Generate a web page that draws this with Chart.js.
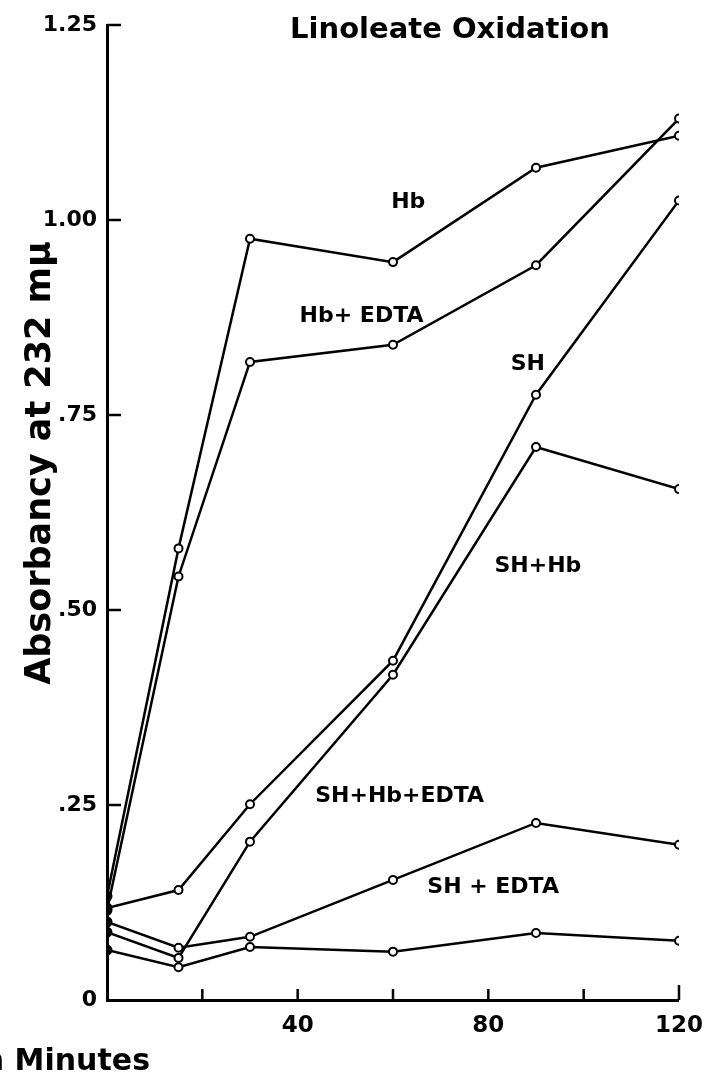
<!DOCTYPE html>
<html>
<head>
<meta charset="utf-8">
<title>Linoleate Oxidation</title>
<script src="https://cdn.jsdelivr.net/npm/chart.js@4.4.1/dist/chart.umd.min.js"></script>
<style>
  body { margin: 0; background: #fff; }
  #wrap { width: 715px; height: 1075px; position: relative; }
</style>
</head>
<body>
<div id="wrap"><canvas id="oxChart"></canvas></div>
<script>
// sampling times (minutes)
const minutes = [0, 15, 30, 60, 90, 120];

// absorbancy at 232 mμ for each incubation mixture
const hb = [0.133, 0.579, 0.976, 0.946, 1.067, 1.108];
const hbEdta = [0.115, 0.543, 0.818, 0.840, 0.942, 1.130];
const sh = [0.118, 0.141, 0.251, 0.435, 0.776, 1.025];
const shHb = [0.087, 0.054, 0.203, 0.417, 0.709, 0.655];
const shHbEdta = [0.100, 0.067, 0.081, 0.154, 0.227, 0.199];
const shEdta = [0.064, 0.042, 0.068, 0.062, 0.086, 0.076];

const seriesNames = ['Hb', 'Hb+ EDTA', 'SH', 'SH+Hb', 'SH+Hb+EDTA', 'SH + EDTA'];
const seriesValues = [hb, hbEdta, sh, shHb, shHbEdta, shEdta];

// where each curve name sits, in chart units (minutes, absorbancy)
const nameMinutes = [63.2, 53.4, 88.3, 90.4, 61.4, 81.0];
const nameAbsorb = [1.015, 0.869, 0.808, 0.549, 0.254, 0.137];

const FONT = "'DejaVu Sans', sans-serif";

function pointsOf(values) {
    return minutes.map((m, i) => ({ x: m, y: values[i] }));
}

const datasets = seriesValues.map((vals, k) => ({
    label: seriesNames[k],
    data: pointsOf(vals),
    borderColor: '#000',
    borderWidth: 2.5,
    tension: 0,
    pointRadius: ctx => ctx.dataIndex === 0 ? 4.5 : 4,
    pointBorderWidth: 2,
    pointBorderColor: '#000',
    pointBackgroundColor: ctx => ctx.dataIndex === 0 ? '#000' : '#fff'
}));

// short inward tick marks along both axes
const inwardTicks = {
    id: 'inwardTicks',
    afterDatasetsDraw(chart) {
        const { ctx, scales: { x, y } } = chart;
        ctx.save();
        ctx.strokeStyle = '#000';
        ctx.lineWidth = 2.5;
        y.ticks.forEach(t => {
            if (t.value === 0) return;
            const py = y.getPixelForValue(t.value);
            ctx.beginPath();
            ctx.moveTo(y.right, py);
            ctx.lineTo(y.right + 14, py);
            ctx.stroke();
        });
        x.ticks.forEach(t => {
            if (t.value === 0) return;
            const px = x.getPixelForValue(t.value);
            ctx.beginPath();
            ctx.moveTo(px, x.top);
            ctx.lineTo(px, x.top - (t.value === 120 ? 15 : 11));
            ctx.stroke();
        });
        ctx.restore();
    }
};

// title, axis captions and curve names
const captions = {
    id: 'captions',
    afterDraw(chart) {
        const { ctx, scales: { x, y } } = chart;
        ctx.save();
        ctx.fillStyle = '#000';

        ctx.font = 'bold 29px ' + FONT;
        ctx.textAlign = 'center';
        ctx.textBaseline = 'alphabetic';
        ctx.fillText('Linoleate Oxidation', 450, 38);

        ctx.save();
        ctx.translate(50, 463);
        ctx.rotate(-Math.PI / 2);
        ctx.font = 'bold 35px ' + FONT;
        ctx.fillText('Absorbancy at 232 mμ', 0, 0);
        ctx.restore();

        ctx.font = 'bold 30px ' + FONT;
        ctx.textAlign = 'right';
        ctx.fillText('Time in Minutes', 150, 1070);

        ctx.font = 'bold 22px ' + FONT;
        ctx.textAlign = 'center';
        seriesNames.forEach((name, k) => {
            ctx.fillText(name, x.getPixelForValue(nameMinutes[k]), y.getPixelForValue(nameAbsorb[k]));
        });
        ctx.restore();
    }
};

new Chart(document.getElementById('oxChart'), {
    type: 'line',
    data: { datasets: datasets },
    options: {
        responsive: true,
        maintainAspectRatio: false,
        animation: false,
        layout: { padding: { top: 25, right: 33, left: 0, bottom: 0 } },
        plugins: {
            legend: { display: false },
            tooltip: { enabled: false },
            title: { display: false }
        },
        scales: {
            x: {
                type: 'linear',
                min: 0,
                max: 120,
                grid: { display: false, drawTicks: false },
                border: { display: true, color: '#000', width: 3 },
                ticks: {
                    stepSize: 20,
                    autoSkip: false,
                    maxRotation: 0,
                    padding: 12,
                    color: '#000',
                    font: { family: FONT, size: 23, weight: 'bold' },
                    callback: v => (v > 0 && v % 40 === 0) ? String(v) : ''
                },
                afterFit: s => { s.height = 75; }
            },
            y: {
                min: 0,
                max: 1.25,
                grid: { display: false, drawTicks: false },
                border: { display: true, color: '#000', width: 3 },
                ticks: {
                    stepSize: 0.25,
                    padding: 10,
                    color: '#000',
                    font: { family: FONT, size: 22, weight: 'bold' },
                    callback: v => v === 0 ? '0' : (v >= 1 ? v.toFixed(2) : v.toFixed(2).slice(1))
                },
                afterFit: s => { s.width = 107; }
            }
        }
    },
    plugins: [inwardTicks, captions]
});
</script>
</body>
</html>
